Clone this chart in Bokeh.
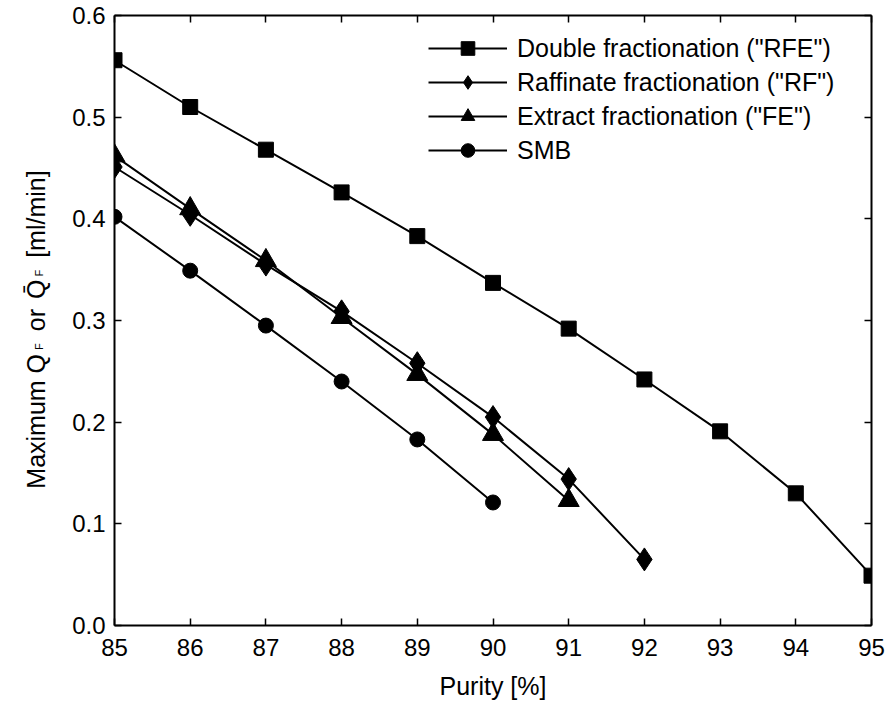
import numpy as np
from bokeh.plotting import figure
from bokeh.layouts import row
from bokeh.core.properties import value
from bokeh.models import (Range1d, LinearAxis, Legend, LegendItem, FixedTicker,
                          CustomJSTickFormatter, NumeralTickFormatter)
from bokeh.embed import file_html
from bokeh.resources import INLINE

# ---- data ----
purity_rfe = [85, 86, 87, 88, 89, 90, 91, 92, 93, 94, 95]
qf_rfe = [0.556, 0.510, 0.468, 0.426, 0.383, 0.337, 0.292, 0.242, 0.191, 0.130, 0.049]

purity_rf = [85, 86, 87, 88, 89, 90, 91, 92]
qf_rf = [0.451, 0.404, 0.355, 0.309, 0.258, 0.205, 0.144, 0.065]

purity_fe = [85, 86, 87, 88, 89, 90, 91]
qf_fe = [0.462, 0.410, 0.359, 0.303, 0.247, 0.188, 0.123]

purity_smb = [85, 86, 87, 88, 89, 90]
qf_smb = [0.402, 0.349, 0.295, 0.240, 0.183, 0.121]

x_ticks = [85, 86, 87, 88, 89, 90, 91, 92, 93, 94, 95]
y_ticks = [0.0, 0.1, 0.2, 0.3, 0.4, 0.5, 0.6]

labels = ['Double fractionation ("RFE")', 'Raffinate fractionation ("RF")',
          'Extract fractionation ("FE")', 'SMB']

# y-axis title pieces (text with subscripts)
ylabel_parts = ["Maximum Q", "F", "or", "Q\u0304", "F", "[ml/min]"]
ylabel_sub = [False, True, False, False, True, False]

FONT = "Liberation Sans"
LEFT_W = 60
H = 707
TOP_B, BOT_B = 15, 82

p = figure(width=886 - LEFT_W, height=H, output_backend="svg", toolbar_location=None,
           x_range=Range1d(85, 95), y_range=Range1d(0, 0.6),
           min_border_left=114 - LEFT_W, min_border_right=15, min_border_top=TOP_B,
           min_border_bottom=BOT_B,
           background_fill_color="white", border_fill_color="white")
p.grid.visible = False
p.outline_line_color = None


def style_axis(ax, ticks, show_labels):
    ax.ticker = FixedTicker(ticks=ticks)
    ax.axis_line_color = "black"
    ax.axis_line_width = 2
    ax.major_tick_line_color = "black"
    ax.major_tick_line_width = 1.5
    ax.major_tick_in = 7
    ax.major_tick_out = 0
    ax.minor_tick_line_color = None
    if show_labels:
        ax.major_label_text_font = FONT
        ax.major_label_text_font_size = "24px"
        ax.major_label_text_color = "black"
    else:
        ax.formatter = CustomJSTickFormatter(code="return ''")
        ax.major_label_text_font_size = "0px"
        ax.major_label_standoff = 0


xa = p.xaxis[0]
style_axis(xa, x_ticks, True)
xa.major_label_standoff = 13
xa.axis_label = "Purity [%]"
xa.axis_label_text_font = FONT
xa.axis_label_text_font_size = "25px"
xa.axis_label_text_font_style = "normal"
xa.axis_label_text_color = "black"
xa.axis_label_standoff = 13

ya = p.yaxis[0]
style_axis(ya, y_ticks, True)
ya.formatter = NumeralTickFormatter(format="0.0")
ya.major_label_standoff = 9

top = LinearAxis()
style_axis(top, x_ticks, False)
p.add_layout(top, "above")
right = LinearAxis()
style_axis(right, y_ticks, False)
p.add_layout(right, "right")

# ---- series ----
series = [
    (purity_rfe, qf_rfe, "square", 15),
    (purity_rf, qf_rf, "diamond", 23),
    (purity_fe, qf_fe, "triangle", 21),
    (purity_smb, qf_smb, "circle", 15),
]
items = []
for (xs, ys, marker, size), lab in zip(series, labels):
    lr = p.line(xs, ys, line_color="black", line_width=2)
    sr = p.scatter(xs, ys, marker=marker, size=size, fill_color="black", line_color="black")
    items.append(LegendItem(label=lab, renderers=[lr, sr]))

legend = Legend(items=items, location=(314, 458), padding=0, margin=0, spacing=0,
                glyph_width=79, glyph_height=34, label_height=34, label_standoff=10,
                label_text_font=FONT, label_text_font_size="25px", label_text_color="black",
                border_line_color=None, background_fill_alpha=0)
p.add_layout(legend)

# ---- left strip holding the rotated y-axis title ----
# (row() aligns this strip's frame with the main frame, so map its y range to
#  "canvas pixels from the top, inverted" over that same frame span)
lp = figure(width=LEFT_W, height=H, output_backend="svg", toolbar_location=None,
            x_range=Range1d(0, LEFT_W), y_range=Range1d(BOT_B, H - TOP_B),
            min_border_left=0, min_border_right=0, min_border_top=TOP_B,
            min_border_bottom=BOT_B,
            x_axis_location=None, y_axis_location=None,
            background_fill_color="white", border_fill_color="white")
lp.grid.visible = False
lp.outline_line_color = None

# approximate advance widths (em) of Arial-metric glyphs, for laying out pieces
EM = {"M": .833, "a": .556, "x": .5, "i": .222, "m": .833, "u": .556, " ": .278,
      "Q": .778, "F": .611, "o": .556, "r": .333, "[": .278, "l": .222, "/": .278,
      "n": .556, "]": .278, "\u0304": 0.0}
MAIN_PX, SUB_PX = 25, 11
gaps_after = [4, 12, 10, 3, 12, 0]   # px of space after each piece
widths = [sum(EM[c] for c in t) * (SUB_PX if s else MAIN_PX)
          for t, s in zip(ylabel_parts, ylabel_sub)]
total = sum(widths) + sum(gaps_after)
center_from_top = 329
pos = center_from_top + total / 2          # start (bottom) of the title, canvas y from top
for txt, sub, w, g in zip(ylabel_parts, ylabel_sub, widths, gaps_after):
    lp.text(x=[38 if sub else 35], y=[H - pos], text=[txt], angle=np.pi / 2,
            text_font=value(FONT), text_font_size=f"{SUB_PX if sub else MAIN_PX}px",
            text_color="black", text_align="left", text_baseline="alphabetic")
    pos -= w + g

layout = row(lp, p, spacing=0)
open("out.html", "w").write(file_html(layout, INLINE))
